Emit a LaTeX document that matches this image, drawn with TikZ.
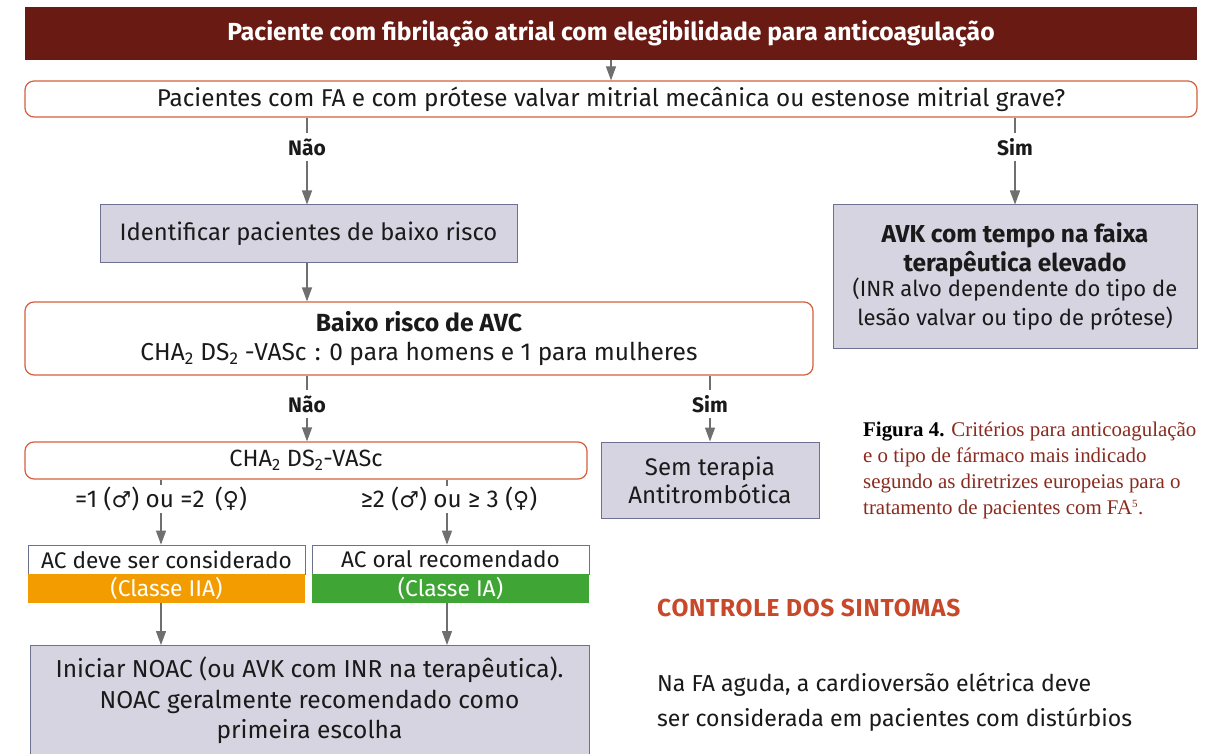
\documentclass[tikz,border=0pt]{standalone}
\usepackage{fontspec}
\setmainfont{Fira Sans}
\newfontfamily\symf{DejaVu Sans}
\newfontfamily\capf{Liberation Serif}
\usetikzlibrary{arrows.meta}
\definecolor{titlered}{HTML}{691A12}
\definecolor{rborder}{HTML}{D4603C}
\definecolor{grayfill}{HTML}{D5D4E0}
\definecolor{grayborder}{HTML}{6E7090}
\definecolor{arrgray}{HTML}{6F6F6F}
\definecolor{orangec}{HTML}{F39C00}
\definecolor{greenc}{HTML}{3FA535}
\definecolor{capred}{HTML}{8A2B1F}
\definecolor{headred}{HTML}{C8482A}
\definecolor{txt}{HTML}{1A1A1A}
\tikzset{
  rbox/.style={draw=rborder, line width=1.2pt, rounded corners=9pt, fill=white, align=center, inner sep=0pt, text=txt},
  gbox/.style={draw=grayborder, line width=1pt, fill=grayfill, align=center, inner sep=0pt, text=txt},
  lbl/.style={font=\fontsize{21}{22}\selectfont\bfseries, text=txt, inner sep=0pt, minimum height=27pt},
  cond/.style={font=\fontsize{24.3}{26}\selectfont, text=txt, inner sep=0pt, minimum height=28pt},
  ln/.style={draw=arrgray, line width=1.2pt},
  arr/.style={draw=arrgray, line width=1.2pt, -{Triangle[length=14pt,width=10pt]}, color=arrgray},
  main/.style={font=\fontsize{24.3}{29}\selectfont},
}
\newcommand{\gsym}[1]{{\symf\fontsize{22}{24}\selectfont #1}}
\begin{document}
\begin{tikzpicture}[x=1pt,y=-1pt]
\clip (0,0) rectangle (1207,754);
\fill[white] (0,0) rectangle (1207,754);
% title
\node[fill=titlered, minimum width=1172pt, minimum height=53pt, inner sep=0pt, text=white, font=\fontsize{24.7}{28}\selectfont\bfseries] (title) at (611,33.5) {Paciente com fibrilação atrial com elegibilidade para anticoagulação};
% question 1
\node[rbox, minimum width=1172pt, minimum height=36pt, main] (q1) at (611,99) {Pacientes com FA e com prótese valvar mitrial mecânica ou estenose mitrial grave?};
\draw[arr] (title.south -| q1.north) -- (q1.north);
% labels
\node[lbl] (nao1) at (307,147) {Não};
\node[lbl] (sim1) at (1015,147) {Sim};
% identify
\node[gbox, minimum width=417pt, minimum height=57pt, font=\fontsize{23.8}{29}\selectfont] (idb) at (308.5,233.5) {Identificar pacientes de baixo risco};
% AVK
\node[gbox, minimum width=364pt, minimum height=143pt, font=\fontsize{22}{29}\selectfont] (avk) at (1015,276.5) {{\fontsize{24.5}{29}\selectfont\bfseries AVK com tempo na faixa}\\[-0.5pt]{\fontsize{24.5}{29}\selectfont\bfseries terapêutica elevado}\\[-4pt](INR alvo dependente do tipo de\\lesão valvar ou tipo de prótese)};
\draw[ln] (q1.south -| nao1) -- (nao1);
\draw[arr] (nao1) -- (nao1 |- idb.north);
\draw[ln] (q1.south -| sim1) -- (sim1);
\draw[arr] (sim1) -- (sim1 |- avk.north);
% baixo risco
\node[rbox, minimum width=788pt, minimum height=73pt, font=\fontsize{24.5}{29}\selectfont] (baixo) at (419,338.5) {{\bfseries\fontsize{24.8}{29}\selectfont Baixo risco de AVC}\\CHA\textsubscript{2} DS\textsubscript{2} -VASc\,\,: 0 para homens e 1 para mulheres};
\draw[arr] (idb.south -| nao1) -- (baixo.north -| nao1);
\node[lbl] (nao2) at (307,404) {Não};
\node[lbl] (sim2) at (710,404) {Sim};
% cha box
\node[rbox, minimum width=562pt, minimum height=37pt, font=\fontsize{23.5}{26}\selectfont] (cha) at (306,460.5) {CHA\textsubscript{2} DS\textsubscript{2}-VASc};
% sem terapia
\node[gbox, minimum width=218pt, minimum height=76pt, font=\fontsize{24}{28}\selectfont] (sem) at (710,480) {Sem terapia\\Antitrombótica};
\draw[ln] (baixo.south -| nao2) -- (nao2);
\draw[arr] (nao2) -- (nao2 |- cha.north);
\draw[ln] (baixo.south -| sim2) -- (sim2);
\draw[arr] (sim2) -- (sim2 |- sem.north);
% conditions
\node[cond] (c1) at (161,499) {=1 (\gsym{♂}) ou =2\, (\gsym{♀})};
\node[cond] (c2) at (449,499) {≥2 (\gsym{♂}) ou ≥ 3 (\gsym{♀})};
% AC boxes
\node[draw=grayborder, line width=0.8pt, fill=white, minimum width=277pt, minimum height=29pt, inner sep=0pt, font=\fontsize{22.6}{26}\selectfont, text=txt] (acl) at (166.5,559.5) {AC deve ser considerado};
\node[fill=orangec, minimum width=277pt, minimum height=29pt, inner sep=0pt, font=\fontsize{22.8}{26}\selectfont, text=white] (acl2) at (166.5,588.5) {(Classe IIA)};
\node[draw=grayborder, line width=0.8pt, fill=white, minimum width=277pt, minimum height=29pt, inner sep=0pt, font=\fontsize{22.6}{26}\selectfont, text=txt] (acr) at (450.5,559.5) {AC oral recomendado};
\node[fill=greenc, minimum width=277pt, minimum height=29pt, inner sep=0pt, font=\fontsize{22.8}{26}\selectfont, text=white] (acr2) at (450.5,588.5) {(Classe IA)};
\draw[ln] (cha.south -| c1) -- (c1.north);
\draw[arr] (c1.south) -- (acl.north -| c1);
\coordinate (c2a) at (447,486);
\coordinate (c2b) at (447,513);
\draw[ln] (cha.south -| c2a) -- (c2a);
\draw[arr] (c2b) -- (acr.north -| c2b);
% NOAC box
\node[gbox, minimum width=559pt, minimum height=140pt, anchor=north] (noac) at (309.5,645) {};
\node[font=\fontsize{24.5}{30.5}\selectfont, align=center, text=txt, anchor=north, inner sep=0pt] (noact) at (309.5,657) {Iniciar NOAC (ou AVK com INR na terapêutica).\\NOAC geralmente recomendado como\\primeira escolha};
\draw[arr] (acl2.south -| c1) -- (noac.north -| c1);
\draw[arr] (acr2.south -| c2b) -- (noac.north -| c2b);
% caption
\node[anchor=north west, align=left, inner sep=0pt, font=\capf\fontsize{20.9}{26}\selectfont, text=capred] (cap) at (863,422) {{\bfseries\color{black}Figura 4.} Critérios para anticoagulação\\e o tipo de fármaco mais indicado\\segundo as diretrizes europeias para o\\tratamento de pacientes com FA\textsuperscript{\fontsize{11}{12}\selectfont 5}.};
% heading
\node[anchor=west, inner sep=0pt, font=\fontsize{24.5}{26}\selectfont\bfseries\addfontfeatures{LetterSpace=3}, text=headred] (head) at (657,608) {CONTROLE DOS SINTOMAS};
\node[anchor=north west, align=left, inner sep=0pt, font=\fontsize{23.1}{35}\selectfont, text=txt] (body) at (657,673) {Na FA aguda, a cardioversão elétrica deve\\ser considerada em pacientes com distúrbios};
\end{tikzpicture}
\end{document}
